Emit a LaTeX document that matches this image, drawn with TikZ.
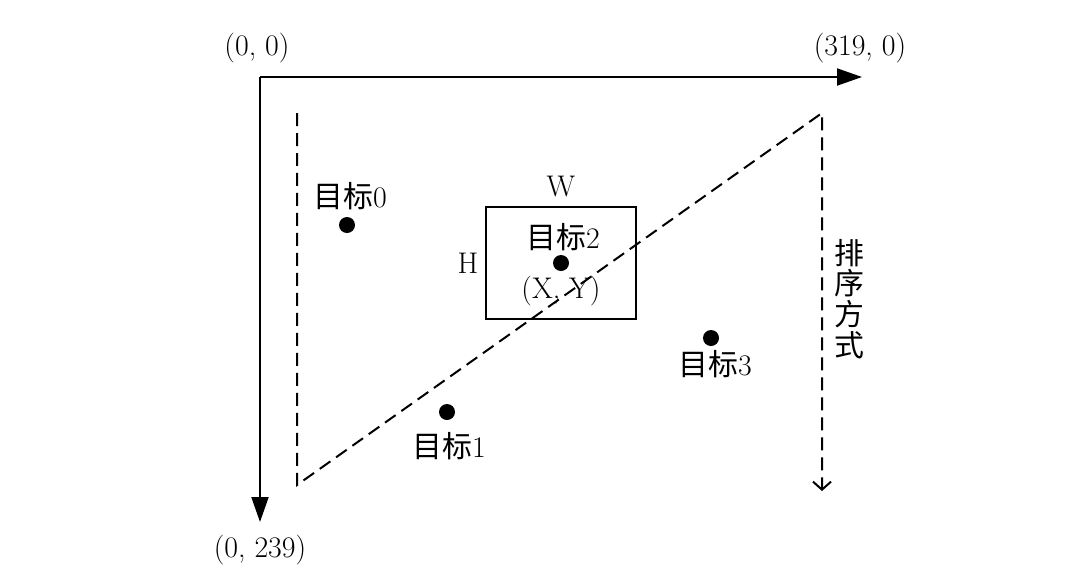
\documentclass[tikz,border=0pt]{standalone}
\usepackage{fontspec}
\newfontfamily\cjk{Noto Sans CJK SC}
\usepackage{tikz}
\usetikzlibrary{arrows.meta}

\begin{document}
\begin{tikzpicture}[x=0.02cm, y=-0.02cm,
                    every node/.style={font=\fontsize{17}{17}\selectfont},
                    axis/.style={-{Triangle[length=0.5cm, width=0.34cm]}, line width=0.04cm},
                    sortline/.style={-{Straight Barb[length=0.16cm, width=0.36cm]}, line width=0.04cm, dash pattern=on 0.26cm off 0.14cm},
                    target/.style={circle, fill=black, inner sep=0pt, minimum size=0.32cm},
                    tbox/.style={draw, line width=0.04cm, inner sep=0pt, minimum width=3cm, minimum height=2.24cm}]

    \useasboundingbox (0,0) rectangle (1075,586);

    % axes
    \coordinate (o)    at (260,77);
    \coordinate (xend) at (862,77);
    \coordinate (yend) at (260,522);
    \draw[axis] (o) -- (xend);
    \draw[axis] (o) -- (yend);

    \node (l00)   at (257,48)  {(0, 0)};
    \node (l3190) at (860,48)  {(319, 0)};
    \node (l0239) at (260,550) {(0, 239)};

    % sort order
    \coordinate (s0) at (297,113);
    \coordinate (s1) at (297,485);
    \coordinate (s2) at (822,113);
    \coordinate (s3) at (822,491);
    \draw[sortline] (s0) -- (s1) -- (s2) -- (s3);
    \node[align=center, font=\cjk\fontsize{17}{17.5}\selectfont] (order) at (849,299) {排\\序\\方\\式};

    % target box
    \node[tbox] (box) at (561,263) {};
    \node (w) at (561,187) {W};
    \node (h) at (468,263) {H};

    % targets
    \node[target] (t0) at (347,225) {};
    \node[target] (t1) at (447,412) {};
    \node[target] (t2) at (561,263) {};
    \node[target] (t3) at (711,338) {};

    \node (n0) at (350,196) {{\cjk 目标}0};
    \node (n1) at (449,446) {{\cjk 目标}1};
    \node (n2) at (563,237) {{\cjk 目标}2};
    \node (n3) at (715,364) {{\cjk 目标}3};
    \node (xy) at (561,291) {(X, Y)};
\end{tikzpicture}
\end{document}
